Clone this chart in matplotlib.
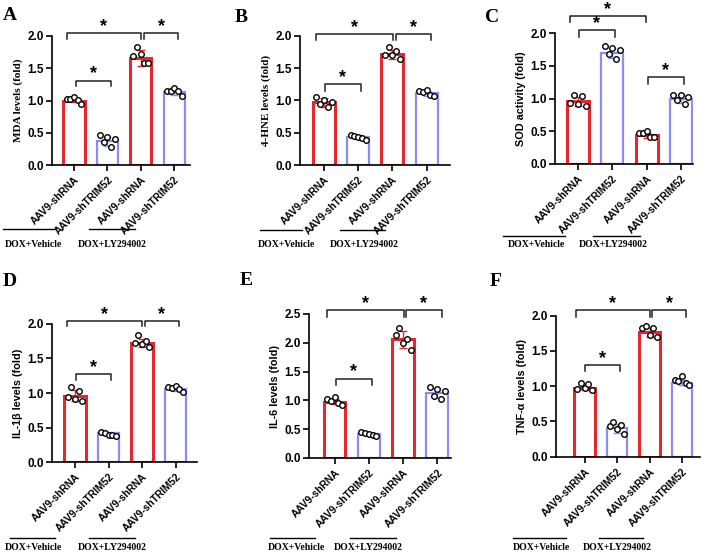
import matplotlib
matplotlib.use("Agg")
import matplotlib.pyplot as plt
from matplotlib.lines import Line2D
import numpy as np

W, H = 709, 555
categories = ["AAV9-shRNA", "AAV9-shTRIM52", "AAV9-shRNA", "AAV9-shTRIM52"]
groups = ["DOX+Vehicle", "DOX+LY294002"]

# ---- data ----
mda_mean = [1.00, 0.37, 1.66, 1.13]
mda_sd = [0.03, 0.07, 0.12, 0.04]
mda_pts = [[1.03, 1.02, 1.06, 1.01, 0.95], [0.46, 0.36, 0.43, 0.28, 0.40],
           [1.69, 1.83, 1.72, 1.58, 1.58], [1.15, 1.15, 1.20, 1.14, 1.07]]

hne_mean = [0.97, 0.43, 1.71, 1.11]
hne_sd = [0.07, 0.03, 0.07, 0.04]
hne_pts = [[1.05, 0.95, 1.01, 0.89, 0.97], [0.46, 0.45, 0.44, 0.41, 0.38],
           [1.70, 1.82, 1.70, 1.76, 1.64], [1.14, 1.13, 1.16, 1.09, 1.06]]

sod_mean = [0.96, 1.70, 0.44, 0.99]
sod_sd = [0.07, 0.08, 0.04, 0.06]
sod_pts = [[0.94, 1.05, 0.92, 1.04, 0.89], [1.80, 1.68, 1.78, 1.60, 1.74],
           [0.47, 0.47, 0.51, 0.42, 0.41], [1.06, 0.98, 1.05, 0.92, 1.03]]

il1b_mean = [0.96, 0.42, 1.72, 1.06]
il1b_sd = [0.08, 0.02, 0.06, 0.03]
il1b_pts = [[0.94, 1.08, 0.91, 1.03, 0.88], [0.44, 0.42, 0.40, 0.39, 0.38],
            [1.72, 1.83, 1.70, 1.75, 1.66], [1.08, 1.07, 1.10, 1.06, 1.01]]

il6_mean = [0.98, 0.41, 2.06, 1.12]
il6_sd = [0.05, 0.03, 0.15, 0.08]
il6_pts = [[1.02, 0.99, 1.06, 0.96, 0.92], [0.46, 0.43, 0.41, 0.40, 0.38],
           [2.13, 2.26, 1.99, 2.06, 1.87], [1.23, 1.08, 1.20, 1.03, 1.16]]

tnf_mean = [0.98, 0.40, 1.76, 1.05]
tnf_sd = [0.04, 0.07, 0.07, 0.04]
tnf_pts = [[0.96, 1.05, 0.97, 1.03, 0.94], [0.43, 0.49, 0.39, 0.45, 0.32],
           [1.82, 1.85, 1.73, 1.82, 1.69], [1.09, 1.07, 1.15, 1.04, 1.02]]

RED = "#E8262D"
BLUE = "#8C8CF2"
bar_colors = [RED, BLUE, RED, BLUE]
SERIF = "Liberation Serif"
SANS = "Liberation Sans"

panels = [
    dict(letter="A", ylabel="MDA levels (fold)", lfont=SERIF, mean=mda_mean, sd=mda_sd, pts=mda_pts,
         ymax=2.0, box=(52, 190, 36, 165), c1=74, sp=33.4, letter_xy=(3, 7),
         br=[(-0.22, 2.0, 2.04, 0.09), (2.1, 3.11, 2.04, 0.09), (0.05, 1.1, 1.31, 0.09)],
         grp=[(3, 55, 33), (89, 135, 112)], gy=(229, 245)),
    dict(letter="B", ylabel="4-HNE levels (fold)", lfont=SERIF, mean=hne_mean, sd=hne_sd, pts=hne_pts,
         ymax=2.0, box=(300, 450, 35.7, 165), c1=324, sp=34.2, letter_xy=(235, 9),
         br=[(-0.23, 2.02, 2.03, 0.09), (2.1, 3.13, 2.03, 0.09), (0.03, 1.08, 1.25, 0.1)],
         grp=[(260, 302, 286), (340, 385, 364)], gy=(230, 245)),
    dict(letter="C", ylabel="SOD activity (fold)", lfont=SANS, mean=sod_mean, sd=sod_sd, pts=sod_pts,
         ymax=2.0, box=(555, 693, 33.3, 164), c1=578, sp=34.3, letter_xy=(485, 9),
         br=[(-0.24, 1.98, 2.27, 0.09), (0.03, 1.07, 2.05, 0.1), (2.04, 3.08, 1.33, 0.1)],
         grp=[(503, 565, 536), (593, 640, 613)], gy=(236, 245)),
    dict(letter="D", ylabel="IL-1β levels (fold)", lfont=SANS, mean=il1b_mean, sd=il1b_sd, pts=il1b_pts,
         ymax=2.0, box=(52, 197, 323.7, 462.3), c1=75, sp=33.5, letter_xy=(3, 273),
         br=[(-0.25, 1.99, 2.04, 0.08), (2.09, 3.1, 2.04, 0.08), (0.03, 1.07, 1.28, 0.09)],
         grp=[(10, 55, 33), (89, 135, 112)], gy=(538, 547)),
    dict(letter="E", ylabel="IL-6 levels (fold)", lfont=SANS, mean=il6_mean, sd=il6_sd, pts=il6_pts,
         ymax=2.5, box=(309, 451, 314, 458), c1=334.5, sp=34.3, letter_xy=(240, 272),
         br=[(-0.23, 2.03, 2.57, 0.12), (2.08, 3.13, 2.57, 0.12), (0.04, 1.08, 1.38, 0.11)],
         grp=[(270, 315, 296), (350, 396, 368)], gy=(538, 547)),
    dict(letter="F", ylabel="TNF-α levels (fold)", lfont=SANS, mean=tnf_mean, sd=tnf_sd, pts=tnf_pts,
         ymax=2.0, box=(556, 700, 315.5, 456.7), c1=584.5, sp=32.5, letter_xy=(490, 273),
         br=[(-0.25, 2.0, 2.08, 0.1), (2.08, 3.12, 2.08, 0.1), (0.02, 1.08, 1.30, 0.08)],
         grp=[(513, 566, 541), (599, 643, 617)], gy=(538, 547)),
]

fig = plt.figure(figsize=(W / 100, H / 100), dpi=100)
fig.patch.set_facecolor("white")

def fx(px):
    return px / W

def fy(py):
    return 1 - py / H

offsets = np.linspace(-0.22, 0.22, 5)
x = np.arange(4)

for p in panels:
    l, r, t, b = p["box"]
    ax = fig.add_axes([fx(l), fy(b), fx(r) - fx(l), (b - t) / H])
    xl = ((l - p["c1"]) / p["sp"], (r - p["c1"]) / p["sp"])
    ax.set_xlim(*xl)
    ax.set_ylim(0, p["ymax"])
    unit_px = (b - t) / p["ymax"]
    for i in range(4):
        c = bar_colors[i]
        lw = 2.2 if c == RED else 1.6
        ax.bar(x[i], p["mean"][i], width=0.64, facecolor="white", edgecolor=c, linewidth=lw, zorder=2)
        ax.errorbar(x[i], p["mean"][i], yerr=p["sd"][i], color=c, capsize=3, elinewidth=1.0,
                    capthick=1.0, zorder=3)
        ax.plot(x[i] + offsets, p["pts"][i], "o", mfc="white", mec="black", ms=4.0, mew=1.0,
                zorder=4, clip_on=False)
    for (x1, x2, y, d) in p["br"]:
        ax.plot([x1, x1, x2, x2], [y - d, y, y, y - d], color="#222222", lw=1.1, clip_on=False)
        ax.text((x1 + x2) / 2, y - 2.0 / unit_px, "*", ha="center", va="bottom",
                fontsize=13, fontweight="bold", family=SANS, clip_on=False)
    for s in ["top", "right"]:
        ax.spines[s].set_visible(False)
    for s in ["left", "bottom"]:
        ax.spines[s].set_linewidth(1.2)
    ax.set_yticks(np.arange(0, p["ymax"] + 0.01, 0.5))
    ax.set_yticklabels([f"{v:.1f}" for v in np.arange(0, p["ymax"] + 0.01, 0.5)],
                       fontsize=8.5, fontweight="bold", family=SANS)
    ax.set_xticks(x)
    ax.set_xticklabels(categories, rotation=45, ha="right", va="top", rotation_mode="anchor",
                       fontsize=7.3, fontweight="bold", family=SANS)
    ax.tick_params(axis="both", direction="out", length=4, width=1.2, pad=2)
    ax.tick_params(axis="x", pad=3)
    ax.set_ylabel(p["ylabel"], fontsize=8 if p["lfont"] == SERIF else 7.8, fontweight="bold",
                  family=p["lfont"], labelpad=3)
    lx, ly = p["letter_xy"]
    fig.text(fx(lx), fy(ly), p["letter"], ha="left", va="top", fontsize=14, fontweight="bold",
             family=SERIF)
    gl, gt = p["gy"]
    for (a, bb, cx), g in zip(p["grp"], groups):
        fig.add_artist(Line2D([fx(a), fx(bb)], [fy(gl), fy(gl)], color="black", lw=1.0))
        fig.text(fx(cx), fy(gt), g, ha="center", va="center", fontsize=7, fontweight="bold",
                 family=SERIF)

fig.savefig("out.png", dpi=100, facecolor="white")
